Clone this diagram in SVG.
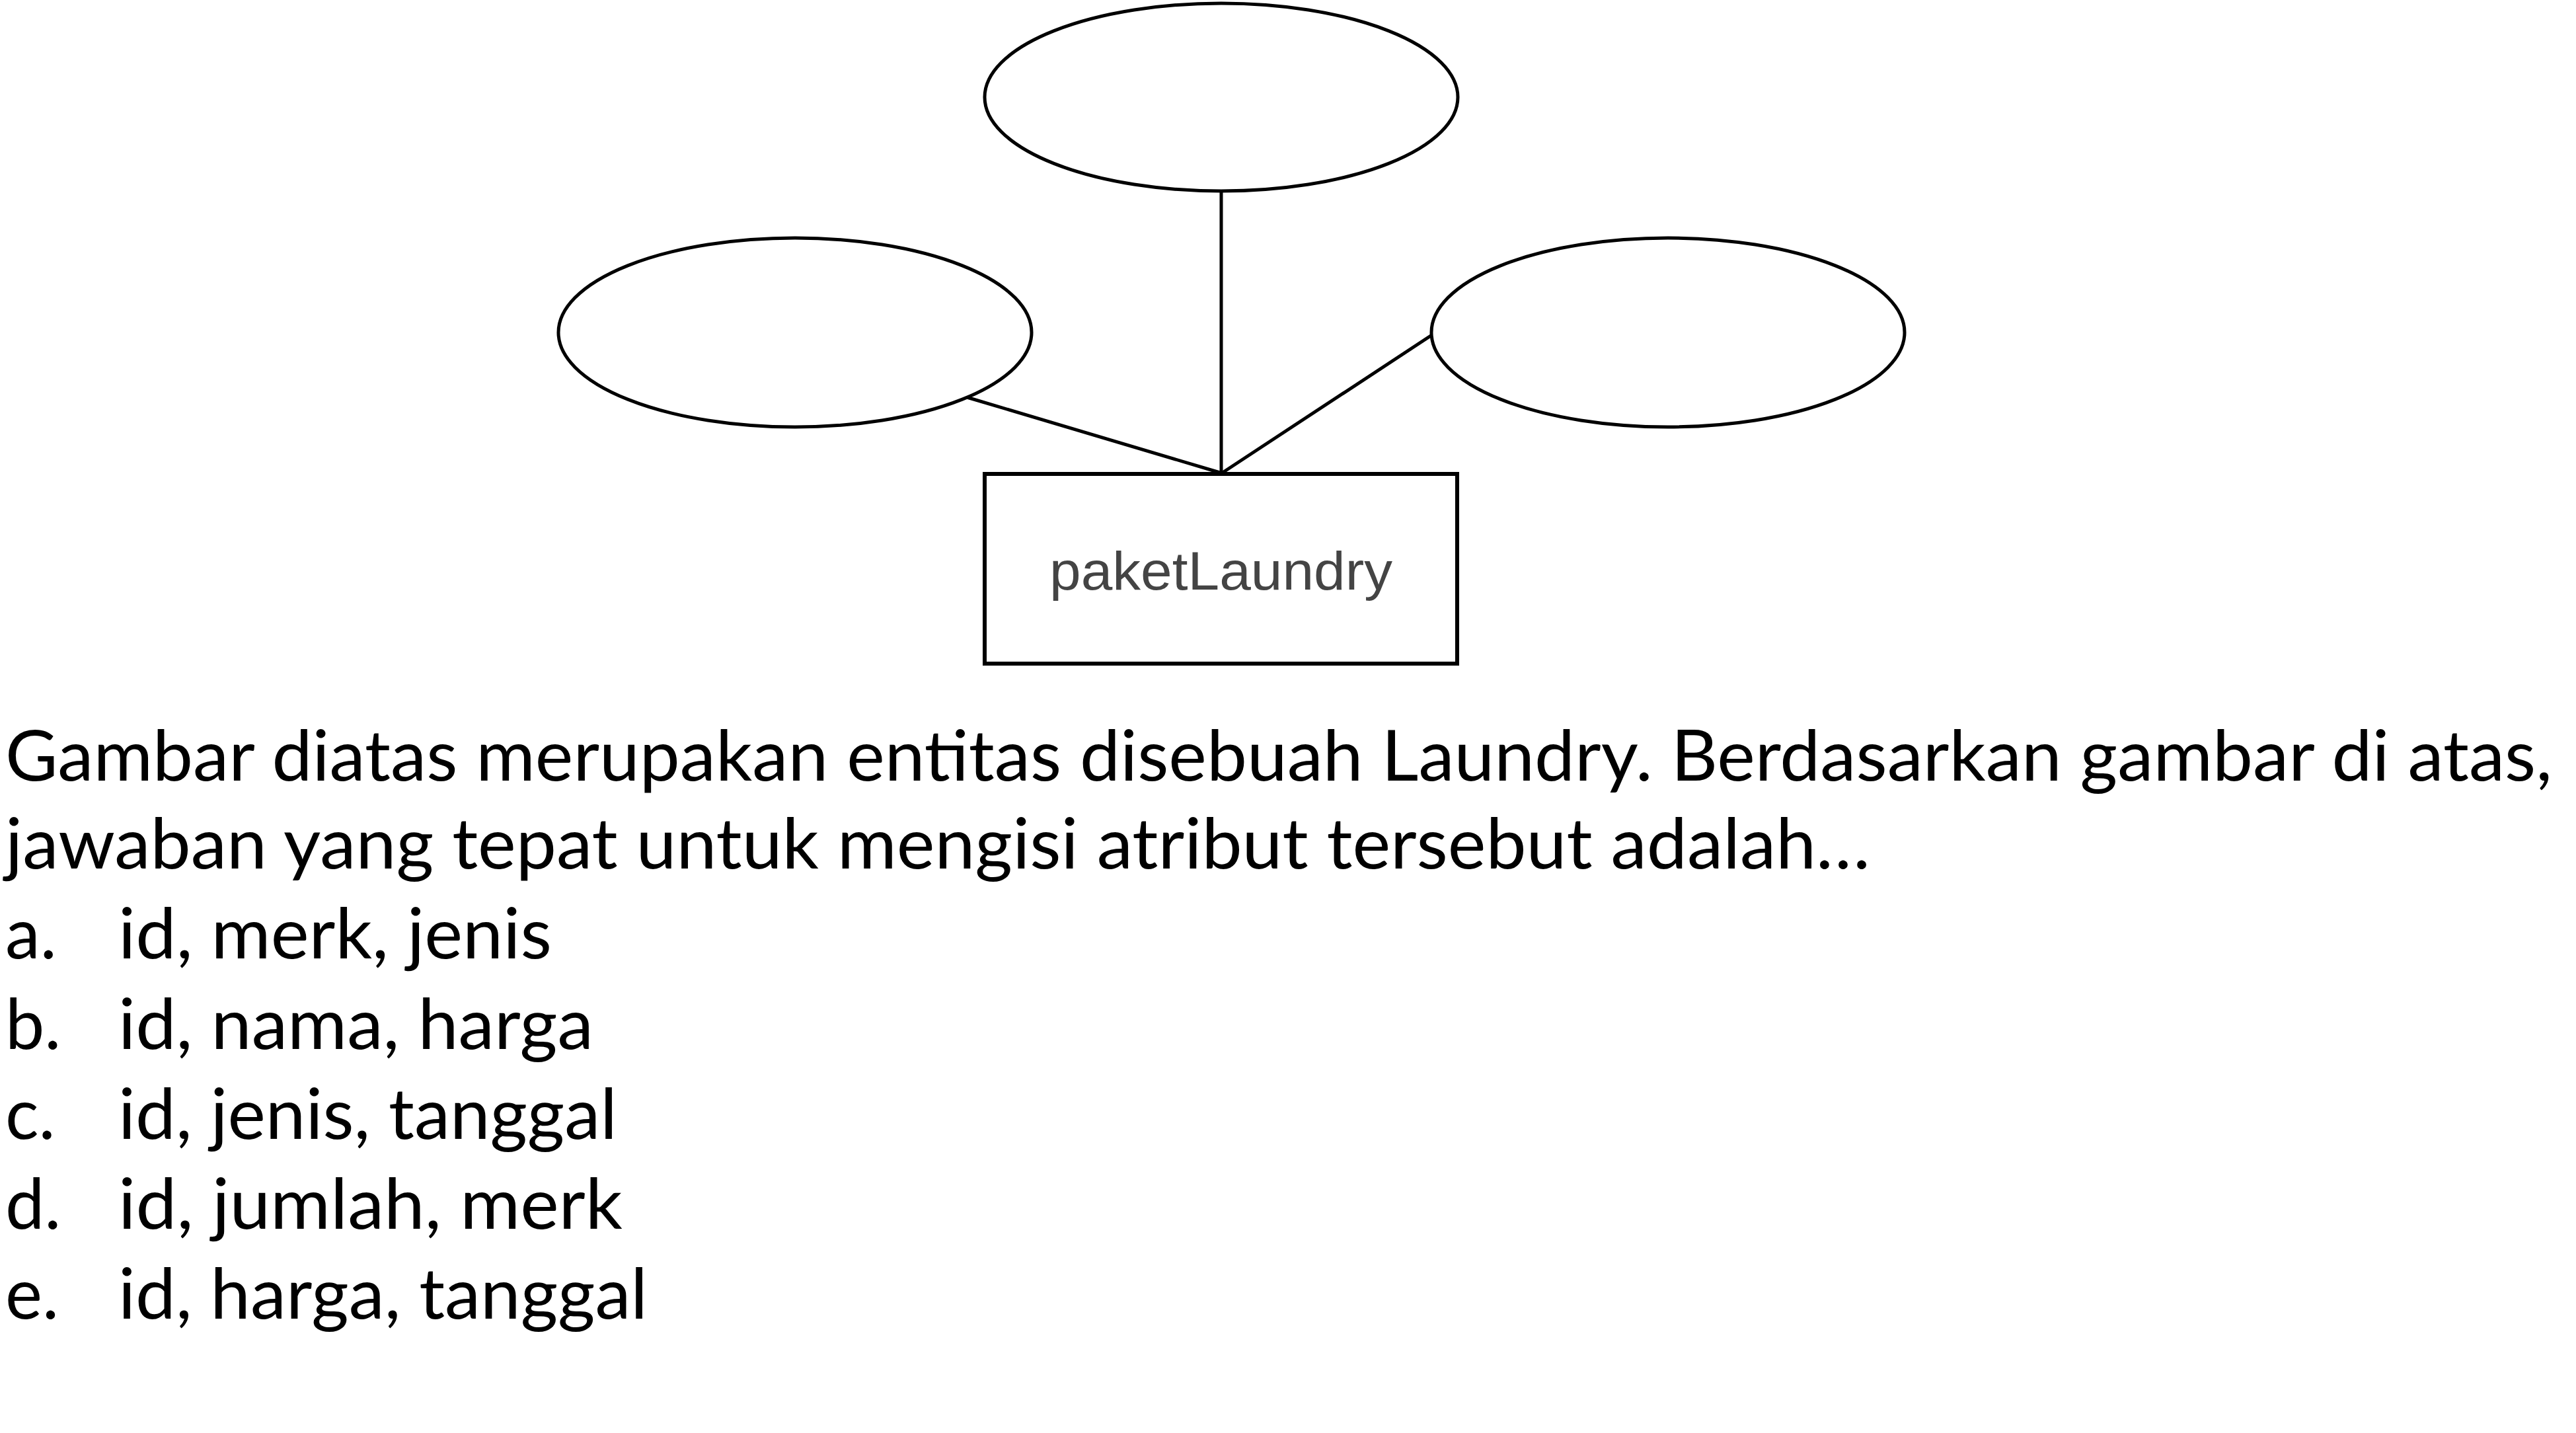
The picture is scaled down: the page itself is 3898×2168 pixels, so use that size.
<svg xmlns="http://www.w3.org/2000/svg" width="3898" height="2168" viewBox="0 0 3898 2168">
<style>
.attr{fill:#fff;stroke:#000;stroke-width:5}
.ent{fill:#fff;stroke:#000;stroke-width:6}
.conn line{stroke:#000;stroke-width:5}
.lbl{font-family:"Liberation Sans",Arial,sans-serif;font-size:82px;fill:#444}
.body{font-family:Lato,"Open Sans",sans-serif;font-size:106px;fill:#000}
</style>
<rect width="3898" height="2168" fill="#fff"/>
<g id="connectors" class="conn">
<line x1="1848" y1="289" x2="1848" y2="717"/>
<line x1="1463" y1="601" x2="1846" y2="715"/>
<line x1="2168" y1="506" x2="1850" y2="715"/>
</g>
<g id="attr-top"><ellipse class="attr" cx="1848" cy="147" rx="358" ry="142"/></g>
<g id="attr-left"><ellipse class="attr" cx="1203" cy="503" rx="358" ry="143"/></g>
<g id="attr-right"><ellipse class="attr" cx="2524" cy="503" rx="358" ry="143"/></g>
<g id="entity-paketLaundry">
<rect class="ent" x="1490" y="717" width="715" height="287"/>
<text class="lbl" x="1588" y="892" textLength="519" lengthAdjust="spacingAndGlyphs">paketLaundry</text>
</g>
<g id="question" class="body">
<text x="8" y="1181" textLength="3854" lengthAdjust="spacingAndGlyphs">Gambar diatas merupakan entitas disebuah Laundry. Berdasarkan gambar di atas,</text>
<text x="8" y="1314" textLength="2822" lengthAdjust="spacingAndGlyphs">jawaban yang tepat untuk mengisi atribut tersebut adalah…</text>
<text x="8" y="1450">a.</text><text x="179" y="1450" textLength="656" lengthAdjust="spacingAndGlyphs">id, merk, jenis</text>
<text x="8" y="1587">b.</text><text x="179" y="1587" textLength="719" lengthAdjust="spacingAndGlyphs">id, nama, harga</text>
<text x="8" y="1723">c.</text><text x="179" y="1723" textLength="755" lengthAdjust="spacingAndGlyphs">id, jenis, tanggal</text>
<text x="8" y="1859">d.</text><text x="179" y="1859" textLength="763" lengthAdjust="spacingAndGlyphs">id, jumlah, merk</text>
<text x="8" y="1995">e.</text><text x="179" y="1995" textLength="801" lengthAdjust="spacingAndGlyphs">id, harga, tanggal</text>
</g>
</svg>
